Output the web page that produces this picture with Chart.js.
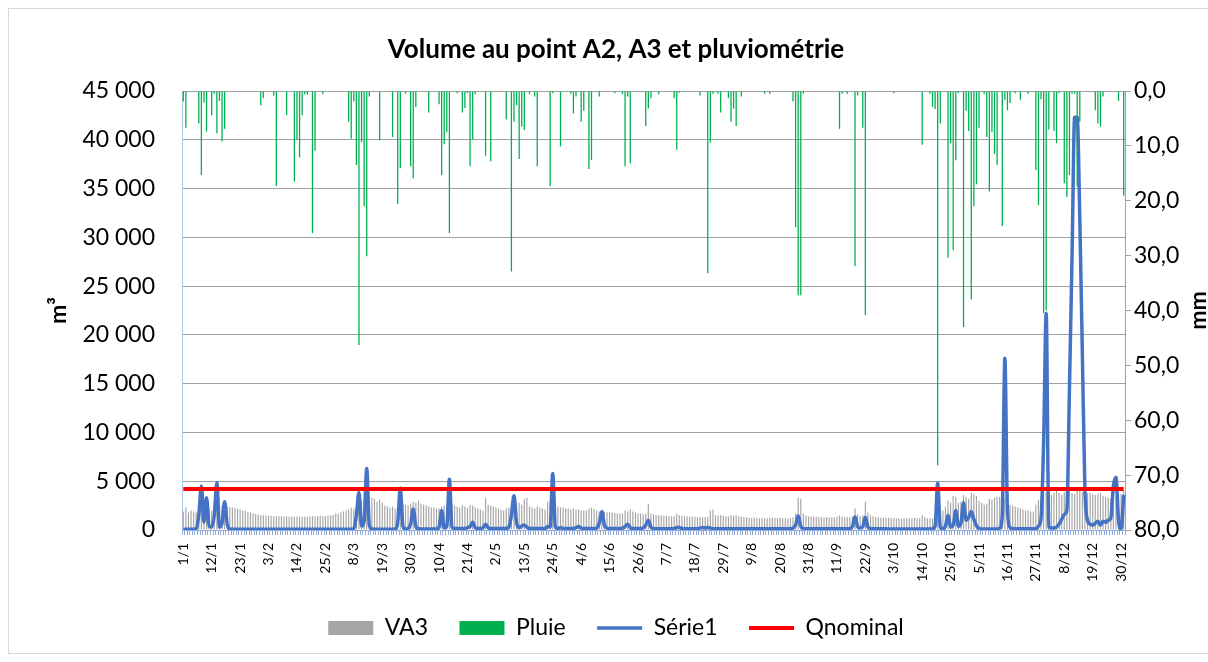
<!DOCTYPE html>
<html><head><meta charset="utf-8">
<script src="https://cdn.jsdelivr.net/npm/chart.js@4.4.1/dist/chart.umd.min.js"></script>
<style>
html,body{margin:0;padding:0;background:#fff;}
#wrap{position:relative;width:1208px;height:662px;overflow:hidden;background:#fff;}
#frame{position:absolute;left:8px;top:8px;width:1300px;height:646px;border:1px solid #d9d9d9;box-sizing:border-box;}
canvas{position:absolute;left:0;top:0;}
</style></head><body>
<div id="wrap"><div id="frame"></div><canvas id="c" width="1208" height="662"></canvas></div>
<script>
// ---------- categories ----------
const monthLengths = [31,28,31,30,31,30,31,31,30,31,30,31];
const categories = [];
monthLengths.forEach((n, m) => { for (let d = 1; d <= n; d++) categories.push(d + '/' + (m + 1)); });
const shownTicks = ['1/1','12/1','23/1','3/2','14/2','25/2','8/3','19/3','30/3','10/4','21/4','2/5','13/5','24/5','4/6','15/6','26/6','7/7','18/7','29/7','9/8','20/8','31/8','11/9','22/9','3/10','14/10','25/10','5/11','16/11','27/11','8/12','19/12','30/12'];

// ---------- VA3 (m3, grey bars) ----------
const va3Jan = [1900,2300,1800,2000,1900,1800,2100,2500,2400,2300,2200,2000,2400,2600,2400,2500,2600,2400,2350,2300,2250,2200,2100,2000,1950,1850,1800,1700,1650,1600,1550];
const va3Feb = [1500,1480,1450,1460,1420,1400,1430,1400,1380,1400,1370,1390,1360,1380,1350,1370,1350,1380,1400,1420,1380,1400,1450,1420,1400,1450,1500,1550];
const va3Mar = [1700,1650,1800,1900,2000,2100,2300,2200,2500,2700,3000,3300,3100,3000,3300,3200,2900,3100,2800,2500,2400,2300,2400,2200,2300,2800,2700,2600,2500,2700,2900];
const va3Apr = [2800,3000,2700,2600,2500,2400,2300,2300,2200,2200,2400,2500,2600,2800,2700,2500,2400,2300,2500,2400,2300,2600,2500,2300,2200,2100,2000,3300,2600,2500];
const va3May = [2400,2300,2200,2100,2000,2200,2300,2600,3000,2700,2800,2600,3200,3300,2400,2300,2200,2400,2300,2200,2100,2900,3000,2700,2500,2400,2300,2300,2200,2200,2100];
const va3Jun = [2200,2100,2100,2000,2000,2000,2200,2300,2100,2000,1900,1900,1850,1800,1800,1800,1750,1700,1700,1700,2000,1900,2100,1900,1800,1700,1700,1650,1650,2700];
const va3Jul = [1700,1600,1550,1500,1500,1450,1450,1400,1400,1400,1700,1500,1450,1400,1400,1350,1350,1350,1300,1350,1300,1300,1350,2000,2100,1500,1450,1500,1450,1400,1400];
const va3Aug = [1500,1450,1500,1400,1350,1300,1300,1250,1250,1250,1200,1200,1200,1200,1200,1200,1250,1250,1250,1250,1200,1200,1200,1250,1300,1700,3300,3200,1700,1500,1400];
const va3Sep = [1400,1350,1350,1350,1300,1300,1300,1300,1300,1300,1350,1500,1350,1300,1300,1300,1400,2200,1600,1400,1500,2900,1800,1500,1400,1300,1300,1250,1250,1250];
const va3Oct = [1250,1200,1200,1200,1200,1150,1200,1200,1200,1200,1250,1200,1200,1500,1300,1200,1200,1200,1250,2000,1800,2000,2400,3000,2800,3500,3400,2800,2900,3600,3400];
const va3Nov = [3200,3800,3700,3500,3000,2800,2600,2700,3200,3100,3300,3400,3400,3600,3200,2800,2600,2500,2400,2300,2200,2100,2000,2000,1900,1900,2600,3100,3200,3800];
const va3Dec = [3900,3700,3600,3800,4000,3800,3600,3900,4100,4000,3800,3700,4000,4100,3900,3900,3800,3800,3700,3600,3700,3800,3500,3400,3300,3200,3300,3400,3600,3700,4000];

// ---------- Pluie (mm, green bars, right reversed axis) ----------
const rainJan = [1.9,6.7,0,0,0,0,5.9,15.3,2.1,7.4,0,4.4,0.5,7.7,1.8,9.2,6.9,0,0,0,0,0,0,0,0,0,0,0,0,0,2.6];
const rainFeb = [1.3,0,0,0,0.8,17.3,0,0,0,4.4,0,0,16.5,8.9,12.1,4.4,0.6,0.7,0,25.9,10.9,0,0,0.6,0,0,0,0];
const rainMar = [0,0,0,0,0,5.6,8.7,1.9,13.5,46.3,9.3,21.0,30.1,1.0,0,0,0,9.0,0,0,0,0,8.4,0,20.6,14.1,0,0.5,0,13.7,15.9];
const rainApr = [2.9,0,0,0,0,3.9,0,0,0,2.4,15.3,9.7,7.5,25.9,0,0,0.4,0,3.9,3.1,0.4,13.7,8.8,0.6,0,0,0,11.8,0,12.8];
const rainMay = [0,0,0,0,0,5.2,0,32.9,5.6,2.6,12.4,6.5,7.1,0,0.6,0,1.0,13.7,0,0,0,0,17.3,0.4,0,0,10.1,0,0,0,0.5];
const rainJun = [4.1,1.0,0,5.6,3.6,0,14.2,12.6,0,0,1.0,0,0,0,0,0,0.4,0,0,0.6,13.7,1.0,13.2,0,0,0,0,0,6.4,3.2];
const rainJul = [1.3,0,0,0.6,0,0,0,0,0,1.3,10.7,0.3,0,0,0,0,0,0,0,0.8,0,0,33.2,9.4,0.5,0,0.5,3.9,0,0,1.3];
const rainAug = [5.6,3.2,6.4,0,1.0,0,0,0,0,0,0,0,0,0.5,0,0.5,0,0,0,0,0,0,0,0,1.9,24.8,37.2,37.2,0.5,0,0];
const rainSep = [0,0,0,0,0,0,0,0,0,0,0,6.9,0.5,0,0.5,0,0,31.9,0.8,0,6.7,40.8,0,0,0,0,0,0,0,0];
const rainOct = [0,0,0.4,0,0,0,0,0,0,0,0,0,0,9.8,0,0,0.5,2.9,3.3,68.2,5.9,0,0,30.4,9.5,29.0,12.6,0.4,0,43.0,3.6];
const rainNov = [7.3,38.0,21.0,17.0,6.7,0,0.5,8.4,18.3,7.5,11.5,13.5,0,24.6,1.6,3.5,2.2,0,0.4,0,1.6,0,0,0.5,0,0,14.4,20.8,1.5,40.5];
const rainDec = [40.0,7.0,0,7.3,9.5,0.4,0,16.8,19.3,15.3,0.5,0.5,17.4,5.6,0,0,0,0,0,3.5,5.9,6.5,1.0,0,0,0,0,0,1.8,0,19.1];

// ---------- Série1 (m3, blue line) ----------
const s1Jan = [80,80,80,80,80,150,1500,4500,800,3300,400,300,1500,4850,300,700,2900,600,100,80,80,80,80,80,80,80,80,80,80,80,80];
const s1Feb = [80,80,80,80,80,80,80,80,80,80,80,80,80,80,80,80,80,80,80,80,80,80,80,80,80,80,80,80];
const s1Mar = [80,80,80,80,80,80,80,150,1500,3850,400,900,6300,500,100,80,80,80,80,80,80,80,80,100,800,4300,400,100,150,600,2150];
const s1Apr = [400,120,100,100,100,100,100,100,100,300,2000,200,400,5200,300,150,150,150,150,150,250,350,800,250,150,150,250,600,250,150];
const s1May = [150,150,150,150,150,150,300,1500,3500,700,250,400,500,300,150,150,150,150,150,150,150,350,300,5800,350,150,250,150,150,150,150];
const s1Jun = [150,250,350,200,150,150,150,150,150,200,700,1900,500,200,150,150,150,150,150,200,350,600,250,150,150,150,150,200,500,1000];
const s1Jul = [300,150,120,120,120,120,120,120,120,150,250,250,150,120,120,120,120,120,120,200,250,200,250,200,120,120,120,120,120,120,120];
const s1Aug = [120,120,120,120,120,120,120,120,120,120,120,120,120,120,120,120,120,120,120,120,120,120,120,150,200,500,1450,400,150,120,120];
const s1Sep = [120,120,120,120,120,120,120,120,120,120,120,120,120,120,120,150,350,1350,350,200,350,1300,300,150,120,120,120,120,120,120];
const s1Oct = [100,100,100,100,100,100,100,100,100,100,100,100,100,100,100,100,100,120,400,4800,300,120,400,1500,300,500,2000,400,700,2800,1000];
const s1Nov = [1300,1900,1100,450,150,100,100,100,100,100,100,100,200,1500,17600,2000,250,120,120,120,120,120,120,120,120,120,120,400,1200,9000];
const s1Dec = [22200,300,200,200,300,600,1100,1600,2000,14500,28000,42300,42300,32000,18000,4000,1000,600,500,700,900,500,900,800,1000,1200,4500,5400,1000,100,3600];

// ---------- Qnominal (m3, red line) ----------
const QNOMINAL = 4200;

const va3 = [].concat(va3Jan,va3Feb,va3Mar,va3Apr,va3May,va3Jun,va3Jul,va3Aug,va3Sep,va3Oct,va3Nov,va3Dec);
const pluie = [].concat(rainJan,rainFeb,rainMar,rainApr,rainMay,rainJun,rainJul,rainAug,rainSep,rainOct,rainNov,rainDec);
const serie1 = [].concat(s1Jan,s1Feb,s1Mar,s1Apr,s1May,s1Jun,s1Jul,s1Aug,s1Sep,s1Oct,s1Nov,s1Dec);
const qnominal = categories.map(() => QNOMINAL);

const fmtThousands = v => String(v).replace(/\B(?=(\d{3})+(?!\d))/g, ' ');

const rightTitle = {
  id: 'rightTitle',
  afterDraw(chart) {
    const ctx = chart.ctx, a = chart.chartArea;
    ctx.save();
    ctx.font = 'bold 23px Lato';
    ctx.fillStyle = '#000';
    ctx.textAlign = 'center';
    ctx.textBaseline = 'middle';
    ctx.translate(chart.width - 9, (a.top + a.bottom) / 2);
    ctx.rotate(-Math.PI / 2);
    ctx.fillText('mm', 0, 0);
    ctx.restore();
  }
};

function draw() {
  Chart.defaults.font.family = 'Lato';
  Chart.defaults.color = '#000';
  new Chart(document.getElementById('c'), {
    data: {
      labels: categories,
      datasets: [
        { type: 'bar', label: 'VA3', data: va3, yAxisID: 'y', backgroundColor: '#a5a5a5', borderWidth: 0,
          barPercentage: 0.45, categoryPercentage: 1, grouped: false, order: 3, pointStyle: 'rect' },
        { type: 'bar', label: 'Pluie', data: pluie, yAxisID: 'y2', backgroundColor: '#00b050', borderWidth: 0,
          barPercentage: 0.5, categoryPercentage: 1, grouped: false, order: 0, pointStyle: 'rect' },
        { type: 'line', label: 'Série1', data: serie1, yAxisID: 'y', borderColor: '#4472c4', backgroundColor: '#4472c4',
          borderWidth: 3.5, pointRadius: 0, cubicInterpolationMode: 'monotone', order: 2, pointStyle: 'line' },
        { type: 'line', label: 'Qnominal', data: qnominal, yAxisID: 'y', borderColor: '#ff0000', backgroundColor: '#ff0000',
          borderWidth: 4, pointRadius: 0, order: 1, pointStyle: 'line' }
      ]
    },
    options: {
      responsive: false,
      animation: false,
      layout: { padding: { left: 24, right: 0, top: 0, bottom: 12.5 } },
      plugins: {
        title: { display: true, text: 'Volume au point A2, A3 et pluviométrie', color: '#000',
          font: { family: 'Lato', size: 26, weight: 'bold' }, padding: { top: 34.4, bottom: 25.4 } },
        legend: { position: 'bottom',
          labels: { usePointStyle: true, pointStyleWidth: 45, boxHeight: 14, padding: 31.5, color: '#000',
            font: { family: 'Lato', size: 23 }, sort: (a, b) => a.datasetIndex - b.datasetIndex } },
        tooltip: { enabled: false }
      },
      scales: {
        x: {
          type: 'category', offset: true,
          grid: { offset: true, drawOnChartArea: false, drawTicks: true, tickLength: 5, color: '#8faadc' },
          border: { display: true, color: '#8faadc' },
          ticks: { autoSkip: false, maxRotation: 90, minRotation: 90, padding: 8, font: { size: 14 }, color: '#000',
            callback: function (v) { const l = this.getLabelForValue(v); return shownTicks.includes(l) ? l : ''; } },
          afterFit: s => { s.height = 55; }
        },
        y: {
          position: 'left', min: 0, max: 45000,
          ticks: { stepSize: 5000, padding: 27, font: { size: 23 }, color: '#000', callback: v => fmtThousands(v) },
          grid: { color: '#a0a0a0', drawTicks: false },
          border: { display: true, color: '#b4c7e7' },
          title: { display: true, text: 'm³', color: '#000', font: { size: 23, weight: 'bold' }, padding: { top: 21, bottom: 0 } },
          afterFit: s => { s.width = 158; }
        },
        y2: {
          position: 'right', min: 0, max: 80, reverse: true,
          ticks: { stepSize: 10, padding: 3, font: { size: 23 }, color: '#000', callback: v => v.toFixed(1).replace('.', ',') },
          grid: { drawOnChartArea: false, drawTicks: true, tickLength: 6, color: '#a0a0a0' },
          border: { display: true, color: '#a0a0a0' },
          afterFit: s => { s.width = 83; }
        }
      }
    },
    plugins: [rightTitle]
  });
}
Promise.all([document.fonts.load('23px Lato'), document.fonts.load('bold 23px Lato'), document.fonts.load('14px Lato')]).then(draw, draw);
</script>
</body></html>
